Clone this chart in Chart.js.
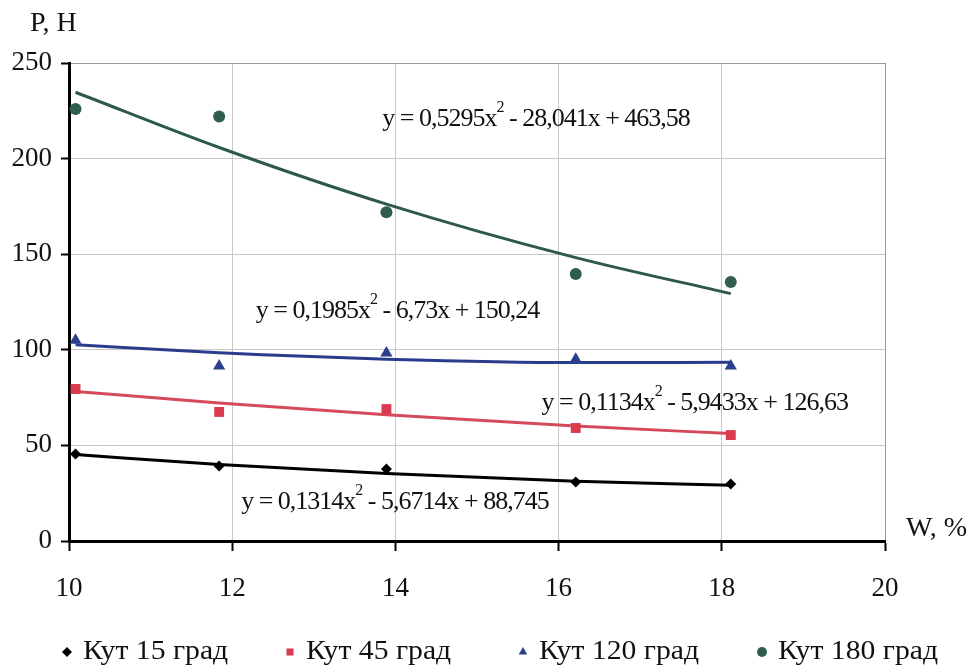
<!DOCTYPE html>
<html>
<head>
<meta charset="utf-8">
<script src="https://cdn.jsdelivr.net/npm/chart.js@4.4.1/dist/chart.umd.min.js"></script>
<style>
	html, body { margin: 0; padding: 0; background: #fff; }
</style>
</head>
<body>
<canvas id="myChart" width="976" height="666"></canvas>
<script>
// moisture W, % (measurement points)
const moisture = [10.08, 11.84, 13.89, 16.21, 18.11];

// measured force P, H
const force15 = [45.5, 39.2, 37.7, 30.9, 29.8];
const force45 = [79.5, 67.5, 69, 59.1, 55.4];
const force120 = [105, 91.5, 98.3, 95, 91.5];
const force180 = [226, 222, 172, 139.6, 135.5];

// trend lines at the same W values
const trend15 = [45.2, 40.0, 35.3, 31.3, 29.1];
const trend45 = [78.2, 72.2, 66.0, 60.1, 56.2];
const trend120 = [102.6, 98.4, 95.1, 93.3, 93.5];
const trend180 = [234.7, 205.8, 176.2, 148.2, 129.4];

const seriesLabels = ["Кут 15 град", "Кут 45 град", "Кут 120 град", "Кут 180 град"];
const xTicks = [10, 12, 14, 16, 18, 20];
const yTicks = [0, 50, 100, 150, 200, 250];

const equations = [
	{ pre: "y = 0,5295x", post: " - 28,041x + 463,58", x: 13.84, y: 220.7 },
	{ pre: "y = 0,1985x", post: " - 6,73x + 150,24", x: 12.29, y: 120.3 },
	{ pre: "y = 0,1134x", post: " - 5,9433x + 126,63", x: 15.79, y: 72.2 },
	{ pre: "y = 0,1314x", post: " - 5,6714x + 88,745", x: 12.11, y: 20.4 }
];

// legend item marker centres in the picture
const legendX = [67, 290, 523, 762];

const FONT = '"Liberation Serif", "Times New Roman", serif';

function pts(ys) {
	return moisture.map((x, i) => ({ x: x, y: ys[i] }));
}

const labelsPlugin = {
	id: "labelsPlugin",
	afterDatasetsDraw(chart) {
		const ctx = chart.ctx;
		const xs = chart.scales.x, ys = chart.scales.y;
		ctx.save();
		ctx.fillStyle = "#111";
		ctx.textBaseline = "middle";
		ctx.textAlign = "left";
		equations.forEach(eq => {
			const px = xs.getPixelForValue(eq.x);
			const py = ys.getPixelForValue(eq.y);
			ctx.letterSpacing = "-1px";
			ctx.font = "26px " + FONT;
			ctx.fillText(eq.pre, px, py);
			let w = ctx.measureText(eq.pre).width;
			ctx.font = "16px " + FONT;
			ctx.fillText("2", px + w, py - 11);
			w += ctx.measureText("2").width;
			ctx.font = "26px " + FONT;
			ctx.fillText(eq.post, px + w, py);
		});
		ctx.letterSpacing = "0px";
		ctx.font = "28px " + FONT;
		ctx.fillText("P, H", 30, 24);
		ctx.fillText("W, %", 906, 529);

		// legend
		const ly = 652;
		for (let i = 0; i < 4; i++) {
			const ds = chart.data.datasets[i];
			ctx.fillStyle = ds.backgroundColor;
			ctx.strokeStyle = ds.backgroundColor;
			Chart.helpers.drawPoint(ctx, { pointStyle: ds.pointStyle, radius: 5, rotation: 0, borderWidth: 0 }, legendX[i], ly);
			ctx.fillStyle = "#111";
			ctx.save();
			ctx.translate(legendX[i] + 16, ly);
			ctx.scale(1.06, 1);
			ctx.font = "28px " + FONT;
			ctx.fillText(ds.label, 0, 0);
			ctx.restore();
		}
		ctx.restore();
	}
};

const colors = ["#000000", "#d93a4e", "#2b3f8c", "#2f5e4c"];
const lineColors = ["#000000", "#d44a5a", "#2a3c8c", "#2d5a48"];
const styles = ["rectRot", "rect", "triangle", "circle"];
const radii = [5.5, 7, 7, 6];
const measured = [force15, force45, force120, force180];
const trends = [trend15, trend45, trend120, trend180];

const datasets = [];
measured.forEach((m, i) => {
	datasets.push({
		label: seriesLabels[i],
		data: pts(m),
		showLine: false,
		pointStyle: styles[i],
		pointRadius: radii[i],
		backgroundColor: colors[i],
		borderColor: colors[i],
		borderWidth: 0,
		order: 1
	});
});
trends.forEach((t, i) => {
	datasets.push({
		label: "trend",
		data: pts(t),
		showLine: true,
		pointRadius: 0,
		borderColor: lineColors[i],
		borderWidth: 3,
		cubicInterpolationMode: "monotone",
		fill: false,
		order: 2
	});
});

const gridColor = ctx => (ctx.tick && (ctx.tick.value === 250 || ctx.tick.value === 20)) ? "#9a9a9a" : "#c8c8c8";

new Chart(document.getElementById("myChart"), {
	type: "scatter",
	data: { datasets: datasets },
	options: {
		responsive: false,
		animation: false,
		devicePixelRatio: 1,
		layout: { padding: { top: 63, right: 91, left: 0, bottom: 0 } },
		plugins: {
			tooltip: { enabled: false },
			legend: { display: false }
		},
		scales: {
			x: {
				type: "linear",
				min: 10,
				max: 20,
				afterBuildTicks: s => { s.ticks = xTicks.map(v => ({ value: v })); },
				afterFit: s => { s.height = 125; },
				grid: { color: gridColor, lineWidth: 1, tickLength: 10, tickColor: "#000", tickWidth: 2 },
				border: { color: "#000", width: 3 },
				ticks: { color: "#111", padding: 22, font: { family: FONT, size: 27 } }
			},
			y: {
				type: "linear",
				min: 0,
				max: 250,
				afterBuildTicks: s => { s.ticks = yTicks.map(v => ({ value: v })); },
				afterFit: s => { s.width = 69; },
				grid: { color: gridColor, lineWidth: 1, tickLength: 8, tickColor: "#000", tickWidth: 2 },
				border: { color: "#000", width: 3 },
				ticks: { color: "#111", padding: 9, font: { family: FONT, size: 27 } }
			}
		}
	},
	plugins: [labelsPlugin]
});
</script>
</body>
</html>
